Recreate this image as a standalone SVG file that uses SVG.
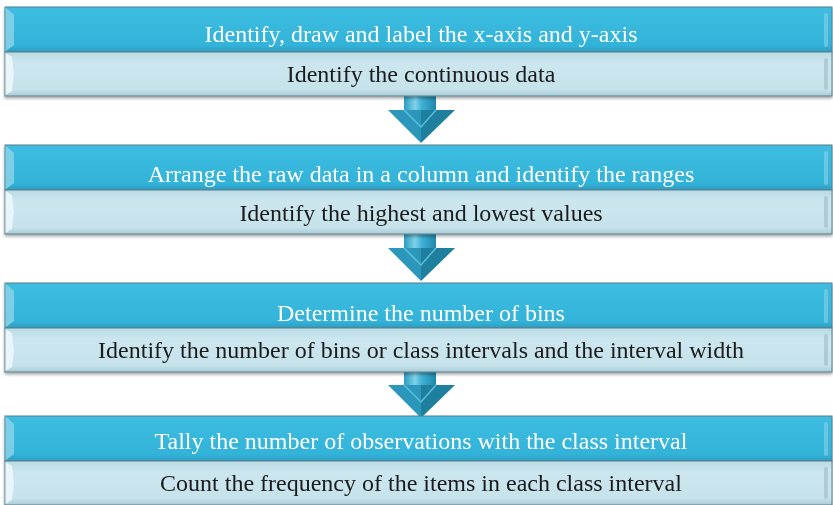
<svg xmlns="http://www.w3.org/2000/svg" width="833" height="505" viewBox="0 0 833 505">
  <defs>
    <linearGradient id="topBand" x1="0" y1="0" x2="0" y2="1">
      <stop offset="0" stop-color="#3dbde1"/>
      <stop offset="0.85" stop-color="#33b3d9"/>
      <stop offset="1" stop-color="#2a9fc4"/>
    </linearGradient>
    <linearGradient id="botBand" x1="0" y1="0" x2="0" y2="1">
      <stop offset="0" stop-color="#b9dbe5"/>
      <stop offset="0.25" stop-color="#cbe6ee"/>
      <stop offset="0.85" stop-color="#c6e2ea"/>
      <stop offset="1" stop-color="#a9ccd7"/>
    </linearGradient>
    <linearGradient id="shaft" x1="0" y1="0" x2="1" y2="0">
      <stop offset="0" stop-color="#2a9cc0"/>
      <stop offset="0.35" stop-color="#7fd2ea"/>
      <stop offset="0.55" stop-color="#3fb2d6"/>
      <stop offset="1" stop-color="#1f86a9"/>
    </linearGradient>
    <filter id="shadow" x="-5%" y="-10%" width="110%" height="130%">
      <feGaussianBlur in="SourceAlpha" stdDeviation="1.5"/>
      <feOffset dx="0" dy="2" result="b"/>
      <feComponentTransfer><feFuncA type="linear" slope="0.35"/></feComponentTransfer>
      <feMerge><feMergeNode/><feMergeNode in="SourceGraphic"/></feMerge>
    </filter>
    <!-- one step: header band over detail band -->
    <g id="step">
      <rect x="5" y="0" width="827" height="45" fill="url(#topBand)" stroke="#5a7f8c" stroke-width="1"/>
      <polygon points="5.5,0.5 14,8 14,38 5.5,44.5" fill="#8fd5ea" opacity="0.8"/>
      <rect x="824" y="6" width="4" height="34" rx="2" fill="#7fcde4" opacity="0.7"/>
      <rect x="5" y="45" width="827" height="44" fill="url(#botBand)" stroke="#5a7f8c" stroke-width="1"/>
      <polygon points="5.5,46 12,50 14,67 12,84 5.5,88" fill="#eef8fb" opacity="0.85"/>
      <rect x="824" y="51" width="4" height="32" rx="2" fill="#9fb9c2" opacity="0.6"/>
    </g>
    <!-- down arrow between steps -->
    <g id="arrow">
      <rect x="404" y="0" width="32" height="16" fill="url(#shaft)"/>
      <polygon points="388,15 421,15 421,48" fill="#2a97bb"/>
      <polygon points="421,15 455,15 421,48" fill="#1f7f9f"/>
      <polyline points="404,15 421,32 436,15" fill="none" stroke="#5cc0dc" stroke-width="1.5"/>
    </g>
  </defs>
  <style>
    .head { font-family: "Liberation Serif", "Times New Roman", serif; font-size: 24px; fill: #ffffff; text-anchor: middle; }
    .body { font-family: "Liberation Serif", "Times New Roman", serif; font-size: 24px; fill: #1a1a1a; text-anchor: middle; }
  </style>

  <g id="connectors">
    <use href="#arrow" x="0" y="95"/>
    <use href="#arrow" x="0" y="233"/>
    <use href="#arrow" x="0" y="370"/>
  </g>

  <g id="step1" filter="url(#shadow)">
    <use href="#step" x="0" y="7"/>
    <text class="head" x="421" y="42">Identify, draw and label the x-axis and y-axis</text>
    <text class="body" x="421" y="82">Identify the continuous data</text>
  </g>

  <g id="step2" filter="url(#shadow)">
    <use href="#step" x="0" y="145"/>
    <text class="head" x="421" y="182">Arrange the raw data in a column and identify the ranges</text>
    <text class="body" x="421" y="221">Identify the highest and lowest values</text>
  </g>

  <g id="step3" filter="url(#shadow)">
    <use href="#step" x="0" y="283"/>
    <text class="head" x="421" y="321">Determine the number of bins</text>
    <text class="body" x="421" y="358">Identify the number of bins or class intervals and the interval width</text>
  </g>

  <g id="step4" filter="url(#shadow)">
    <use href="#step" x="0" y="416"/>
    <text class="head" x="421" y="449">Tally the number of observations with the class interval</text>
    <text class="body" x="421" y="491">Count the frequency of the items in each class interval</text>
  </g>
</svg>
